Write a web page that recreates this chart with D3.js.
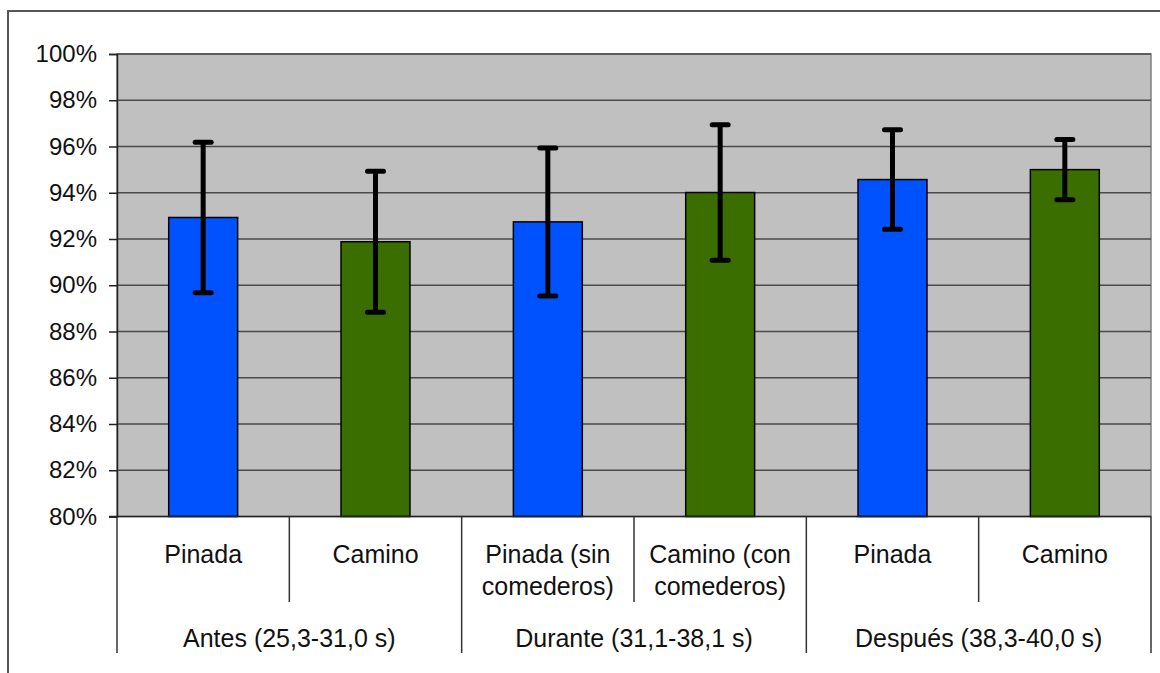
<!DOCTYPE html>
<html>
<head>
<meta charset="utf-8">
<script src="https://cdnjs.cloudflare.com/ajax/libs/d3/7.8.5/d3.min.js"></script>
<style>
  body { margin: 0; background: #fff; }
  svg { display: block; font-family: "Liberation Sans", Arial, sans-serif; }
</style>
</head>
<body>
<svg id="chart" width="1160" height="673"></svg>
<script>
// data
var categories = ["Pinada", "Camino", "Pinada (sin|comederos)", "Camino (con|comederos)", "Pinada", "Camino"];
var groups = ["Antes (25,3-31,0 s)", "Durante (31,1-38,1 s)", "Después (38,3-40,0 s)"];
var means = [92.93, 91.88, 92.74, 94.01, 94.57, 95.00];
var errs = [3.25, 3.05, 3.2, 2.93, 2.15, 1.3];
var colors = ["#0052ff", "#3a6e00", "#0052ff", "#3a6e00", "#0052ff", "#3a6e00"];
var yTicks = [80, 82, 84, 86, 88, 90, 92, 94, 96, 98, 100];

var plotLeft = 117, plotRight = 1151, plotTop = 54, plotBottom = 516.5;

var svg = d3.select("#chart");

// outer frame
svg.append("rect")
    .attr("x", 8).attr("y", 11)
    .attr("width", 1170).attr("height", 680)
    .attr("fill", "none")
    .attr("stroke", "#555")
    .attr("stroke-width", 2);

var x = d3.scaleBand()
    .domain(d3.range(categories.length))
    .range([plotLeft, plotRight]);

var xg = d3.scaleBand()
    .domain(d3.range(groups.length))
    .range([plotLeft, plotRight]);

var y = d3.scaleLinear()
    .domain([80, 100])
    .range([plotBottom, plotTop]);

// plot background
svg.append("rect")
    .attr("x", plotLeft).attr("y", plotTop)
    .attr("width", plotRight - plotLeft).attr("height", plotBottom - plotTop)
    .attr("fill", "#c0c0c0")
    .attr("stroke", "#808080")
    .attr("stroke-width", 1.5);

// gridlines
svg.append("g")
  .selectAll("line")
  .data(yTicks.slice(1))
  .join("line")
    .attr("x1", plotLeft).attr("x2", plotRight)
    .attr("y1", d => y(d)).attr("y2", d => y(d))
    .attr("stroke", "#4a4a4a")
    .attr("stroke-width", 1.5);

// y axis
var yAxis = svg.append("g")
    .attr("transform", `translate(${plotLeft},0)`)
    .call(d3.axisLeft(y).tickValues(yTicks).tickSize(8).tickPadding(12).tickFormat(d => d + "%"));
yAxis.select(".domain").attr("stroke", "#222").attr("stroke-width", 1.5);
yAxis.selectAll(".tick line").attr("stroke", "#222").attr("stroke-width", 1.5);
yAxis.selectAll("text")
    .attr("font-size", 24)
    .attr("fill", "#111")
    .attr("font-family", "Liberation Sans, Arial, sans-serif");

// bars
var bw = x.bandwidth() * 0.4;
svg.append("g")
  .selectAll("rect")
  .data(means)
  .join("rect")
    .attr("x", (d, i) => x(i) + x.bandwidth() / 2 - bw / 2)
    .attr("y", d => y(d))
    .attr("width", bw)
    .attr("height", d => y(80) - y(d))
    .attr("fill", (d, i) => colors[i])
    .attr("stroke", "#000")
    .attr("stroke-width", 1.5);

// error bars
var eb = svg.append("g").attr("stroke", "#000").attr("stroke-width", 5);
means.forEach(function(m, i) {
  var cx = x(i) + x.bandwidth() / 2;
  eb.append("line")
      .attr("x1", cx).attr("x2", cx)
      .attr("y1", y(m + errs[i])).attr("y2", y(m - errs[i]));
  [m + errs[i], m - errs[i]].forEach(function(v) {
    eb.append("line")
        .attr("x1", cx - 8).attr("x2", cx + 8)
        .attr("y1", y(v)).attr("y2", y(v))
        .attr("stroke-linecap", "round");
  });
});

// x axis baseline
svg.append("line")
    .attr("x1", plotLeft - 8).attr("x2", plotRight)
    .attr("y1", plotBottom).attr("y2", plotBottom)
    .attr("stroke", "#222").attr("stroke-width", 1.5);

// category separators
var sep = svg.append("g").attr("stroke", "#333").attr("stroke-width", 1.5);
d3.range(categories.length + 1).forEach(function(i) {
  var xx = i < categories.length ? x(i) : plotRight;
  var isGroup = i % 2 === 0;
  sep.append("line")
      .attr("x1", xx).attr("x2", xx)
      .attr("y1", plotBottom).attr("y2", isGroup ? 653 : 602);
});

// category labels
var cl = svg.append("g")
    .attr("font-size", 25)
    .attr("fill", "#111")
    .attr("text-anchor", "middle");
categories.forEach(function(c, i) {
  var t = cl.append("text")
      .attr("x", x(i) + x.bandwidth() / 2)
      .attr("y", 563);
  c.split("|").forEach(function(line, k) {
    t.append("tspan")
        .attr("x", x(i) + x.bandwidth() / 2)
        .attr("dy", k === 0 ? 0 : 32)
        .text(line);
  });
});

// group labels
svg.append("g")
    .attr("font-size", 25)
    .attr("fill", "#111")
    .attr("text-anchor", "middle")
  .selectAll("text")
  .data(groups)
  .join("text")
    .attr("x", (d, i) => xg(i) + xg.bandwidth() / 2)
    .attr("y", 647)
    .text(d => d);
</script>
</body>
</html>
